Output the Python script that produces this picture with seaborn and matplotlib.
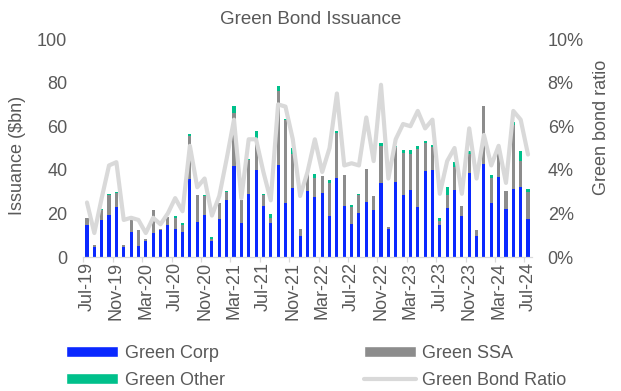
import numpy as np
import pandas as pd
import matplotlib
matplotlib.use("Agg")
import matplotlib.pyplot as plt
import seaborn as sns
from matplotlib.patches import Patch
from matplotlib.lines import Line2D
from matplotlib.ticker import FuncFormatter

# Monthly issuance, Jul-19 .. Jul-24 ($bn)
green_corp = [14.6, 4.6, 16.9, 19.3, 23.0, 4.7, 11.4, 5.2, 7.2, 11.1,
              12.2, 14.5, 12.9, 11.4, 35.8, 16.0, 19.3, 7.5, 17.5, 26.2,
              41.7, 15.7, 28.9, 39.7, 23.4, 15.7, 42.2, 24.8, 31.7, 9.7,
              30.3, 27.5, 29.2, 19.0, 36.1, 23.4, 15.2, 20.1, 25.3, 21.6,
              33.9, 12.8, 34.4, 28.5, 30.7, 23.0, 39.4, 39.7, 14.8, 22.4,
              30.6, 19.0, 38.5, 9.7, 42.6, 24.7, 36.7, 22.2, 31.4, 32.1,
              17.4]
green_ssa = [3.1, 0.8, 4.7, 9.3, 6.5, 0.6, 5.5, 7.0, 1.0, 10.4,
             0.6, 3.7, 5.1, 3.5, 19.9, 12.3, 8.7, 0.9, 7.3, 3.6,
             24.2, 10.3, 15.7, 14.5, 5.2, 2.0, 34.1, 38.1, 15.5, 3.2,
             8.5, 8.7, 7.9, 14.9, 20.7, 14.0, 7.9, 8.2, 14.9, 6.3,
             16.8, 1.0, 16.0, 19.1, 16.6, 26.5, 13.1, 10.8, 1.6, 6.2,
             10.5, 4.4, 8.7, 2.6, 26.7, 11.5, 12.5, 8.2, 29.2, 12.0,
             12.3]
green_other = [0.0, 0.0, 0.3, 0.3, 0.2, 0.3, 0.0, 0.0, 0.0, 0.0,
               0.0, 0.0, 0.6, 0.5, 0.5, 0.3, 0.3, 0.8, 0.0, 0.3,
               3.2, 0.0, 0.5, 3.5, 0.3, 2.1, 2.1, 0.4, 2.7, 0.0,
               0.6, 1.7, 0.0, 1.6, 0.9, 0.3, 0.6, 0.8, 0.0, 0.0,
               1.8, 0.0, 0.3, 1.7, 1.6, 1.6, 0.9, 0.9, 1.4, 3.5,
               2.3, 0.0, 1.2, 0.0, 0.0, 1.4, 0.0, 0.0, 1.5, 4.3,
               1.7]
# Green bond share of total issuance (%)
green_ratio = [2.5, 1.1, 2.7, 4.2, 4.35, 1.7, 1.8, 1.7, 1.1, 1.8,
               1.5, 2.0, 2.7, 2.1, 5.1, 3.2, 3.6, 1.9, 2.8, 4.5,
               6.3, 2.7, 5.4, 5.4, 3.9, 2.6, 7.0, 6.9, 5.4, 2.8,
               3.9, 5.4, 3.9, 5.0, 7.5, 4.2, 4.3, 4.2, 6.4, 4.4,
               7.9, 3.6, 5.4, 6.1, 6.0, 6.7, 5.9, 6.3, 2.9, 4.4,
               5.0, 2.9, 5.9, 3.6, 5.6, 4.2, 5.1, 3.4, 6.7, 6.3,
               4.7]
months = pd.date_range("2019-07-01", periods=len(green_corp), freq="MS").strftime("%b-%y").tolist()
tick_labels = ["Jul-19", "Nov-19", "Mar-20", "Jul-20", "Nov-20", "Mar-21",
               "Jul-21", "Nov-21", "Mar-22", "Jul-22", "Nov-22", "Mar-23",
               "Jul-23", "Nov-23", "Mar-24", "Jul-24"]

C_CORP = "#0A28FF"
C_SSA = "#8C8C8C"
C_OTHER = "#00C08B"
C_RATIO = "#D9D9D9"
TXT = "#595959"

sns.set_theme(style="white")
plt.rcParams["font.family"] = ["Liberation Sans", "DejaVu Sans"]

df = pd.DataFrame({"month": months, "corp": green_corp, "ssa": green_ssa,
                   "other": green_other, "ratio": np.array(green_ratio) / 100})
df["corp_ssa"] = df["corp"] + df["ssa"]
df["total"] = df["corp_ssa"] + df["other"]

W, H = 621, 391
fig = plt.figure(figsize=(W / 100, H / 100), dpi=100)
x0, x1, ytop, ybot = 83.3, 531.7, 39, 257
ax = fig.add_axes([x0 / W, 1 - ybot / H, (x1 - x0) / W, (ybot - ytop) / H])

# stacked columns: draw cumulative heights back to front
for col, c in [("total", C_OTHER), ("corp_ssa", C_SSA), ("corp", C_CORP)]:
    sns.barplot(data=df, x="month", y=col, color=c, saturation=1,
                width=0.42, ax=ax, linewidth=0)

ax.set_xlim(-0.5, len(months) - 0.5)
ax.set_ylim(0, 100)
ax.set_yticks(np.arange(0, 101, 20))
ax.set_xticks(np.arange(0, len(months), 4))
ax.set_xticklabels(tick_labels, rotation=90)
ax.set_xticks(np.arange(-0.5, len(months) - 1, 4), minor=True)
ax.tick_params(axis="x", which="major", length=0, pad=3.8, labelsize=13, labelcolor=TXT)
ax.tick_params(axis="x", which="minor", length=3.5, width=0.9, color=C_RATIO, bottom=True)
ax.tick_params(axis="y", length=0, pad=11.5, labelsize=13, labelcolor=TXT)
ax.set_xlabel("")
ax.set_ylabel("")
for s in ["top", "left", "right"]:
    ax.spines[s].set_visible(False)
ax.spines["bottom"].set_color(C_RATIO)
ax.spines["bottom"].set_linewidth(0.9)

ax2 = ax.twinx()
sns.lineplot(x=np.arange(len(months)), y=df["ratio"], ax=ax2, color=C_RATIO,
             linewidth=3.0, solid_joinstyle="round")
ax2.set_ylim(0, 0.10)
ax2.set_yticks(np.arange(0, 0.101, 0.02))
ax2.yaxis.set_major_formatter(FuncFormatter(lambda v, p: f"{v * 100:.0f}%"))
ax2.tick_params(axis="y", length=0, pad=11.5, labelsize=13, labelcolor=TXT)
ax2.set_ylabel("")
for s in ax2.spines.values():
    s.set_visible(False)
ax2.set_xlim(-0.5, len(months) - 0.5)

fig.text(0.5, 1 - 19 / H, "Green Bond Issuance", ha="center", va="center",
         fontsize=13.5, color=TXT)
fig.text(18 / W, 1 - 155 / H, "Issuance ($bn)", rotation=90, ha="center",
         va="center", fontsize=13, color=TXT)
fig.text(601 / W, 1 - 127 / H, "Green bond ratio", rotation=90, ha="center",
         va="center", fontsize=13, color=TXT)

handles = [Patch(facecolor=C_CORP, label="Green Corp"),
           Patch(facecolor=C_OTHER, label="Green Other"),
           Patch(facecolor=C_SSA, label="Green SSA"),
           Line2D([], [], color=C_RATIO, linewidth=3, label="Green Bond Ratio")]
leg = fig.legend(handles=handles, ncol=2, loc="upper left",
                 bbox_to_anchor=(66 / W, 1 - 345 / H), frameon=False,
                 handlelength=2.9, handleheight=0.5, handletextpad=0.35,
                 columnspacing=7.7, labelspacing=0.55, borderpad=0,
                 borderaxespad=0, fontsize=13)
for t in leg.get_texts():
    t.set_color(TXT)

fig.savefig("out.png", dpi=100)
